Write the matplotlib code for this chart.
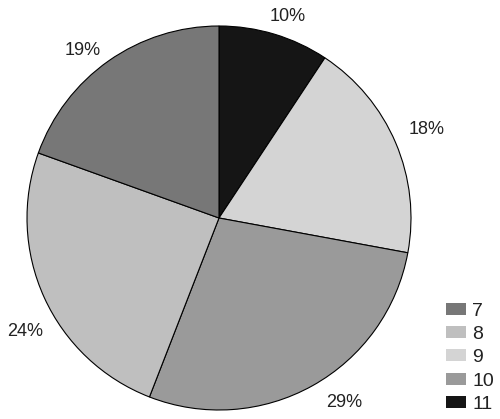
import numpy as np
import matplotlib
matplotlib.use("Agg")
import matplotlib.pyplot as plt

plt.rcParams['font.family'] = ['Liberation Sans', 'DejaVu Sans']

groups = ['11', '9', '10', '8', '7']
shares = [9.3, 18.6, 28.0, 24.6, 19.5]
pct_labels = ['10%', '18%', '29%', '24%', '19%']
colors = ['#151515', '#d4d4d4', '#9a9a9a', '#bfbfbf', '#777777']
legend_order = ['7', '8', '9', '10', '11']

# label placement: radius factor and clockwise nudge (deg) from slice middle
lab_dist = [1.11, 1.175, 1.16, 1.17, 1.125]
lab_nudge = [2, 0, -5, -6, -4]

fig = plt.figure(figsize=(5, 4.19), dpi=100)
ax = fig.add_axes([27 / 500, 9 / 419, 384 / 500, 384 / 419])

wedges, _ = ax.pie(shares, colors=colors, startangle=90, counterclock=False,
                   wedgeprops=dict(edgecolor='black', linewidth=0.8))
ax.set_xlim(-1, 1)
ax.set_ylim(-1, 1)

for w, lab, d, nd in zip(wedges, pct_labels, lab_dist, lab_nudge):
    ang = np.deg2rad((w.theta1 + w.theta2) / 2 - nd)
    ax.text(d * np.cos(ang), d * np.sin(ang), lab, ha='center', va='center',
            fontsize=13, color='#222222', clip_on=False)

handles = [wedges[groups.index(g)] for g in legend_order]
leg = fig.legend(handles, legend_order, loc='lower right',
                 bbox_to_anchor=(1.0, 0.0), frameon=False, fontsize=14,
                 handlelength=1.0, handleheight=0.57, labelspacing=0.33,
                 handletextpad=0.35, borderpad=0.2, borderaxespad=0.1)
for p in leg.get_patches():
    p.set_edgecolor('none')
for t in leg.get_texts():
    t.set_color('#222222')

fig.savefig('out.png', dpi=100)
